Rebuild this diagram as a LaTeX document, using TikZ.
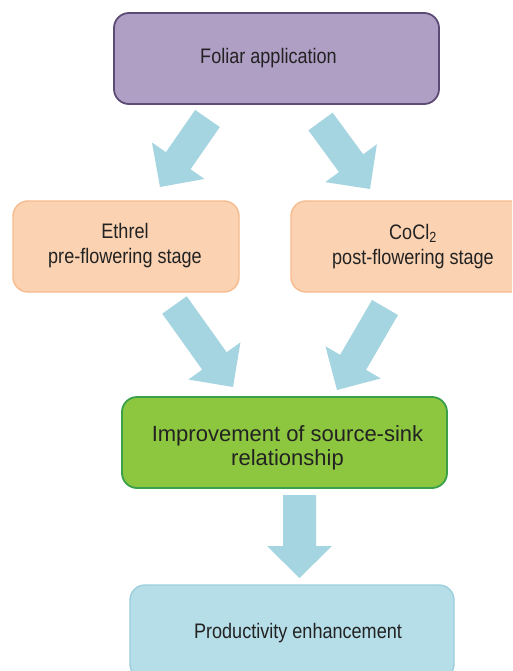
\documentclass[tikz,border=0pt]{standalone}
\usepackage{fontspec}
\setmainfont{Liberation Sans}
\newfontfamily\condfont[FakeStretch=0.86]{Liberation Sans}
\usetikzlibrary{calc}
\definecolor{purplefill}{HTML}{B09FC5}
\definecolor{purpledraw}{HTML}{5E4B75}
\definecolor{orangefill}{HTML}{FCD3B2}
\definecolor{orangedraw}{HTML}{F6BB8E}
\definecolor{greenfill}{HTML}{8DC63F}
\definecolor{greendraw}{HTML}{3AA04A}
\definecolor{bluefill}{HTML}{B6DEE8}
\definecolor{bluedraw}{HTML}{9BCFDD}
\definecolor{arrowfill}{HTML}{A6D5E2}
\definecolor{txt}{HTML}{222222}
\newcommand\blockarrow[4]{% start, tip, shaft half width, head half width
  \coordinate (hb) at ($(#2)!32pt!(#1)$);
  \fill[arrowfill] ($(#1)!#3!90:(#2)$) -- ($(hb)!#3!90:(#2)$) -- ($(hb)!#4!90:(#2)$)
     -- (#2) -- ($(hb)!#4!-90:(#2)$) -- ($(hb)!#3!-90:(#2)$) -- ($(#1)!#3!-90:(#2)$) -- cycle;
}
\tikzset{
  box/.style={rounded corners=15pt, inner sep=0pt},
  purplebox/.style={box, fill=purplefill, draw=purpledraw, line width=1.8pt},
  orangebox/.style={box, fill=orangefill, draw=orangedraw, line width=1.4pt},
  greenbox/.style={box, fill=greenfill, draw=greendraw, line width=1.8pt},
  bluebox/.style={box, fill=bluefill, draw=bluedraw, line width=1.4pt},
  condtext/.style={text=txt, align=center, inner sep=0pt, font=\condfont\fontsize{21}{24.3}\selectfont},
  widetext/.style={text=txt, align=center, inner sep=0pt, font=\fontsize{22}{23.5}\selectfont},
}
\begin{document}
\begin{tikzpicture}[x=1pt,y=-1pt]
\useasboundingbox (0,0) rectangle (512,671);
\clip (0,0) rectangle (512,671);
\fill[white] (0,0) rectangle (512,671);

\node[purplebox, minimum width=325pt, minimum height=91pt] (foliar) at (276.5,58.5) {};
\node[orangebox, minimum width=226pt, minimum height=91pt] (ethrel) at (126,246.5) {};
\node[orangebox, minimum width=244pt, minimum height=91pt] (cocl) at (413,246.5) {};
\node[greenbox, minimum width=325pt, minimum height=91pt] (improve) at (284.5,442.5) {};
\node[bluebox, minimum width=324pt, minimum height=94pt] (product) at (292,632) {};

\node[condtext] (foliar-t) at (268.5,57.9) {Foliar application};
\node[condtext] (ethrel-t) at (125,245.7) {Ethrel\\pre-flowering stage};
\node[condtext] (cocl-t) at (413,246.5) {CoCl\textsubscript{2}\\post-flowering stage};
\node[widetext] (improve-t) at (287.5,447.6) {Improvement of source-sink\\relationship};
\node[condtext] (product-t) at (298,632.8) {Productivity enhancement};

\coordinate (a1s) at (207.5,118.5); \coordinate (a1e) at (160,187);
\coordinate (a2s) at (320.5,121.5); \coordinate (a2e) at (370,189);
\coordinate (a3s) at (174.5,305);   \coordinate (a3e) at (233,387);
\coordinate (a4s) at (385,307.5);   \coordinate (a4e) at (337,390);
\coordinate (a5s) at (299.5,495);   \coordinate (a5e) at (299.5,578);

\blockarrow{a1s}{a1e}{15pt}{32pt}
\blockarrow{a2s}{a2e}{15pt}{32pt}
\blockarrow{a3s}{a3e}{15pt}{32pt}
\blockarrow{a4s}{a4e}{15pt}{32pt}
\blockarrow{a5s}{a5e}{16.5pt}{32.5pt}
\end{tikzpicture}
\end{document}
